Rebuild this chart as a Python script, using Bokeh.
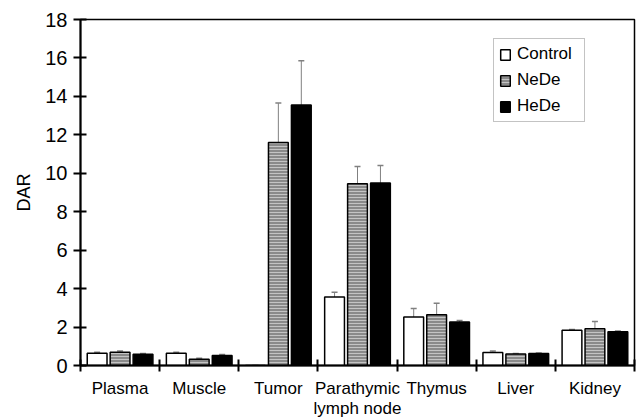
from bokeh.plotting import figure
from bokeh.models import ColumnDataSource, FixedTicker, Whisker, TeeHead, Legend, LegendItem, Range1d
from bokeh.embed import file_html
from bokeh.resources import INLINE

categories = ["Plasma", "Muscle", "Tumor", "Parathymic\nlymph node", "Thymus", "Liver", "Kidney"]
control = [0.64, 0.64, 0.0, 3.56, 2.52, 0.68, 1.84]
control_err = [0.05, 0.05, 0.0, 0.25, 0.45, 0.07, 0.03]
nede = [0.69, 0.33, 11.6, 9.45, 2.64, 0.60, 1.91]
nede_err = [0.06, 0.05, 2.05, 0.9, 0.6, 0.03, 0.38]
hede = [0.59, 0.52, 13.55, 9.5, 2.26, 0.62, 1.76]
hede_err = [0.03, 0.05, 2.3, 0.9, 0.08, 0.03, 0.03]
y_ticks = [0, 2, 4, 6, 8, 10, 12, 14, 16, 18]

FONT = "Liberation Sans"
n = len(categories)
centers = [i + 0.5 for i in range(n)]
boundaries = list(range(n + 1))
offsets = [-0.29, 0.0, 0.29]
bw = 0.25

p = figure(frame_width=554, frame_height=346, width=638, height=419,
           x_range=Range1d(0, n), y_range=Range1d(0, 18),
           output_backend="svg", toolbar_location=None,
           min_border_left=80, min_border_right=4, min_border_top=19, min_border_bottom=54)
p.xgrid.visible = False
p.ygrid.visible = False
p.outline_line_color = "black"
p.outline_line_width = 1.5
p.background_fill_color = "white"
p.border_fill_color = "white"

series = [
    ("Control", control, control_err, dict(fill_color="white")),
    ("NeDe", nede, nede_err, dict(fill_color="#8a8a8a", hatch_pattern="horizontal_line",
                                  hatch_color="#c4c4c4", hatch_scale=3, hatch_weight=1)),
    ("HeDe", hede, hede_err, dict(fill_color="black")),
]

items = []
for k, (name, vals, errs, style) in enumerate(series):
    xs = [c + offsets[k] for c in centers]
    src = ColumnDataSource(dict(x=xs, top=vals,
                                upper=[v + e for v, e in zip(vals, errs)],
                                lower=[v - e for v, e in zip(vals, errs)]))
    r = p.vbar(x="x", top="top", width=bw, bottom=0, source=src,
               line_color="black", line_width=1.5, **style)
    items.append(LegendItem(label=name, renderers=[r]))
    w = Whisker(base="x", upper="upper", lower="lower", source=src,
                line_color="#808080", line_width=1,
                upper_head=TeeHead(size=6, line_color="#808080", line_width=1.5),
                lower_head=TeeHead(size=6, line_color="#808080", line_width=1.5))
    p.add_layout(w)

# x axis
xa = p.xaxis[0]
xa.ticker = FixedTicker(ticks=centers, minor_ticks=boundaries)
xa.major_label_overrides = {c: lab for c, lab in zip(centers, categories)}
xa.major_tick_line_color = None
xa.major_tick_in = 0
xa.major_tick_out = 0
xa.minor_tick_in = 6
xa.minor_tick_out = 6
xa.minor_tick_line_width = 2
xa.axis_line_width = 2
xa.major_label_standoff = 7
xa.major_label_text_font = FONT
xa.major_label_text_font_size = "17px"
xa.major_label_text_line_height = 1.1
xa.major_label_text_color = "black"

# y axis
ya = p.yaxis[0]
ya.ticker = FixedTicker(ticks=y_ticks)
ya.major_tick_in = 6
ya.major_tick_out = 7
ya.major_tick_line_width = 2
ya.minor_tick_line_color = None
ya.axis_line_width = 2
ya.major_label_standoff = 6
ya.major_label_text_font = FONT
ya.major_label_text_font_size = "20px"
ya.major_label_text_color = "black"
ya.axis_label = "DAR"
ya.axis_label_text_font = FONT
ya.axis_label_text_font_size = "18px"
ya.axis_label_text_font_style = "normal"
ya.axis_label_text_color = "black"
ya.axis_label_standoff = 8

legend = Legend(items=items, location=(413, 243))
legend.label_text_font = FONT
legend.label_text_font_size = "17px"
legend.label_text_color = "black"
legend.glyph_width = 12
legend.glyph_height = 13
legend.label_height = 20
legend.label_width = 62
legend.spacing = 6
legend.padding = 5
legend.margin = 0
legend.label_standoff = 6
legend.border_line_color = "#888888"
legend.border_line_width = 1.5
legend.background_fill_color = "white"
p.add_layout(legend, "center")

open("out.html", "w").write(file_html(p, INLINE))
